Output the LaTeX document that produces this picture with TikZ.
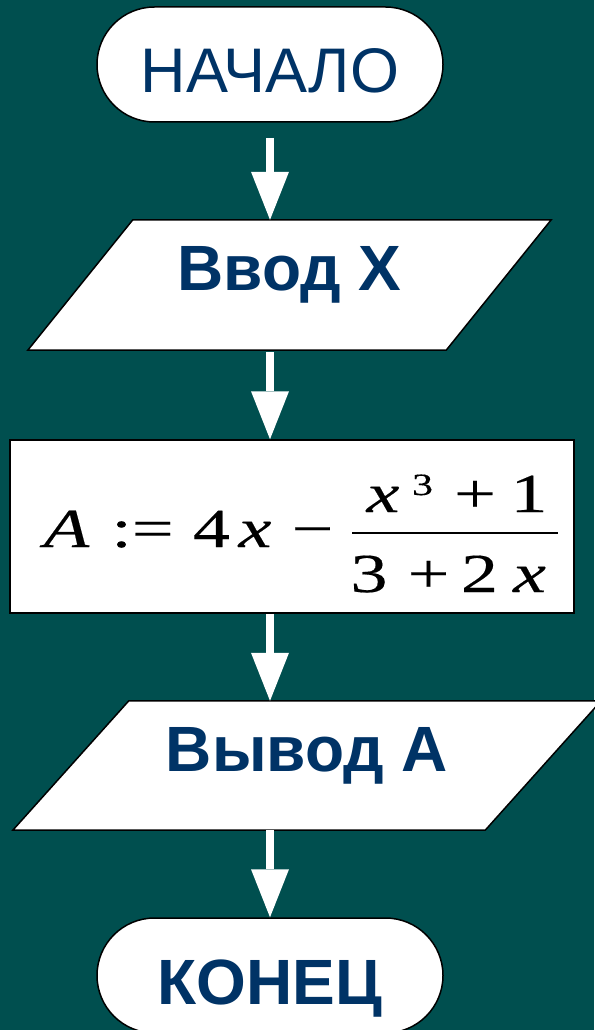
\documentclass[tikz,border=0pt]{standalone}
\usepackage{fontspec}
\setmainfont{Liberation Sans}
\newfontfamily\eqfont[FakeStretch=1.35,FakeBold=0.3]{Liberation Serif}
\usetikzlibrary{arrows.meta,shapes.misc,calc}
\definecolor{bgteal}{RGB}{0,79,79}
\definecolor{navy}{RGB}{0,51,102}
\pgfdeclarelayer{bglayer}
\pgfdeclarelayer{shapelayer}
\pgfsetlayers{bglayer,shapelayer,main}
\begin{document}
\begin{tikzpicture}[x=1pt,y=-1pt,
  term/.style={rounded rectangle, draw=black, line width=1.5pt, fill=white,
    minimum width=346pt, minimum height=115pt, inner sep=0pt, text=navy,
    text height=57pt, text depth=0pt},
  io/.style={inner sep=0pt, text=navy, font=\fontsize{64}{70}\selectfont\bfseries},
  para/.style={draw=black, line width=1.5pt, fill=white, line join=miter},
  procbox/.style={draw=black, line width=1.5pt, fill=white,
    minimum width=564pt, minimum height=173pt, inner sep=0pt},
  eq/.style={anchor=base, inner sep=0pt, font=\eqfont\fontsize{55}{60}\selectfont},
  eqi/.style={eq, font=\eqfont\itshape\fontsize{55}{60}\selectfont},
  flow/.style={draw=white, line width=8pt,
    -{Triangle[width=38pt,length=48pt,line width=0pt]}}
]
\useasboundingbox (0,0) rectangle (594,1030);
\begin{pgfonlayer}{bglayer}
  \fill[bgteal] (0,0) rectangle (594,1030);
\end{pgfonlayer}

% start
\node[term, font=\fontsize{63}{70}\selectfont] (start) at (270,64.5) {НАЧАЛО};

% input
\node[io, minimum width=418pt, minimum height=130pt, text height=47pt, text depth=37pt]
  (in) at (289.5,285) {Ввод X};
\begin{pgfonlayer}{shapelayer}
  \draw[para] ([xshift=52.5pt]in.north west) -- ([xshift=52.5pt]in.north east)
    -- ([xshift=-52.5pt]in.south east) -- ([xshift=-52.5pt]in.south west) -- cycle;
\end{pgfonlayer}

% process
\node[procbox] (calc) at (292,526.5) {};
\node[eqi] (eA) at (66.5,547) {A};
\node[eq] (eAs) at (142.5,547) {:=};
\node[eq] (e4) at (211.5,547) {4};
\node[eqi] (ex1) at (255,547) {x};
\node[eq] (emin) at (312.5,547) {−};
\node[eqi] (nx) at (383,512) {x};
\node[eq, font=\eqfont\fontsize{31}{34}\selectfont] (n3) at (422.5,495) {3};
\node[eq] (nplus) at (475,512) {+};
\node[eq] (n1) at (529,512) {1};
\node[eq] (d3) at (369,592) {3};
\node[eq] (dplus) at (428.5,592) {+};
\node[eq] (d2) at (479.5,592) {2};
\node[eqi] (dx) at (529.5,592) {x};
\draw[line width=2.3pt] (352,533) -- (558,533);

% output
\node[io, minimum width=472pt, minimum height=129pt, text height=48pt, text depth=37pt]
  (out) at (307,765.5) {Вывод А};
\begin{pgfonlayer}{shapelayer}
  \draw[para] ([xshift=58pt]out.north west) -- ([xshift=58pt]out.north east)
    -- ([xshift=-58pt]out.south east) -- ([xshift=-58pt]out.south west) -- cycle;
\end{pgfonlayer}

% end
\node[term, font=\fontsize{64}{70}\selectfont\bfseries] (end) at (270,975.5) {КОНЕЦ};

% connectors
\draw[flow, shorten <=15pt] (start.south) -- (start.south |- in.north);
\draw[flow, shorten <=2pt] (start.south |- in.south) -- (start.south |- calc.north);
\draw[flow] (start.south |- calc.south) -- (start.south |- out.north);
\draw[flow] (start.south |- out.south) -- (end.north);
\end{tikzpicture}
\end{document}
